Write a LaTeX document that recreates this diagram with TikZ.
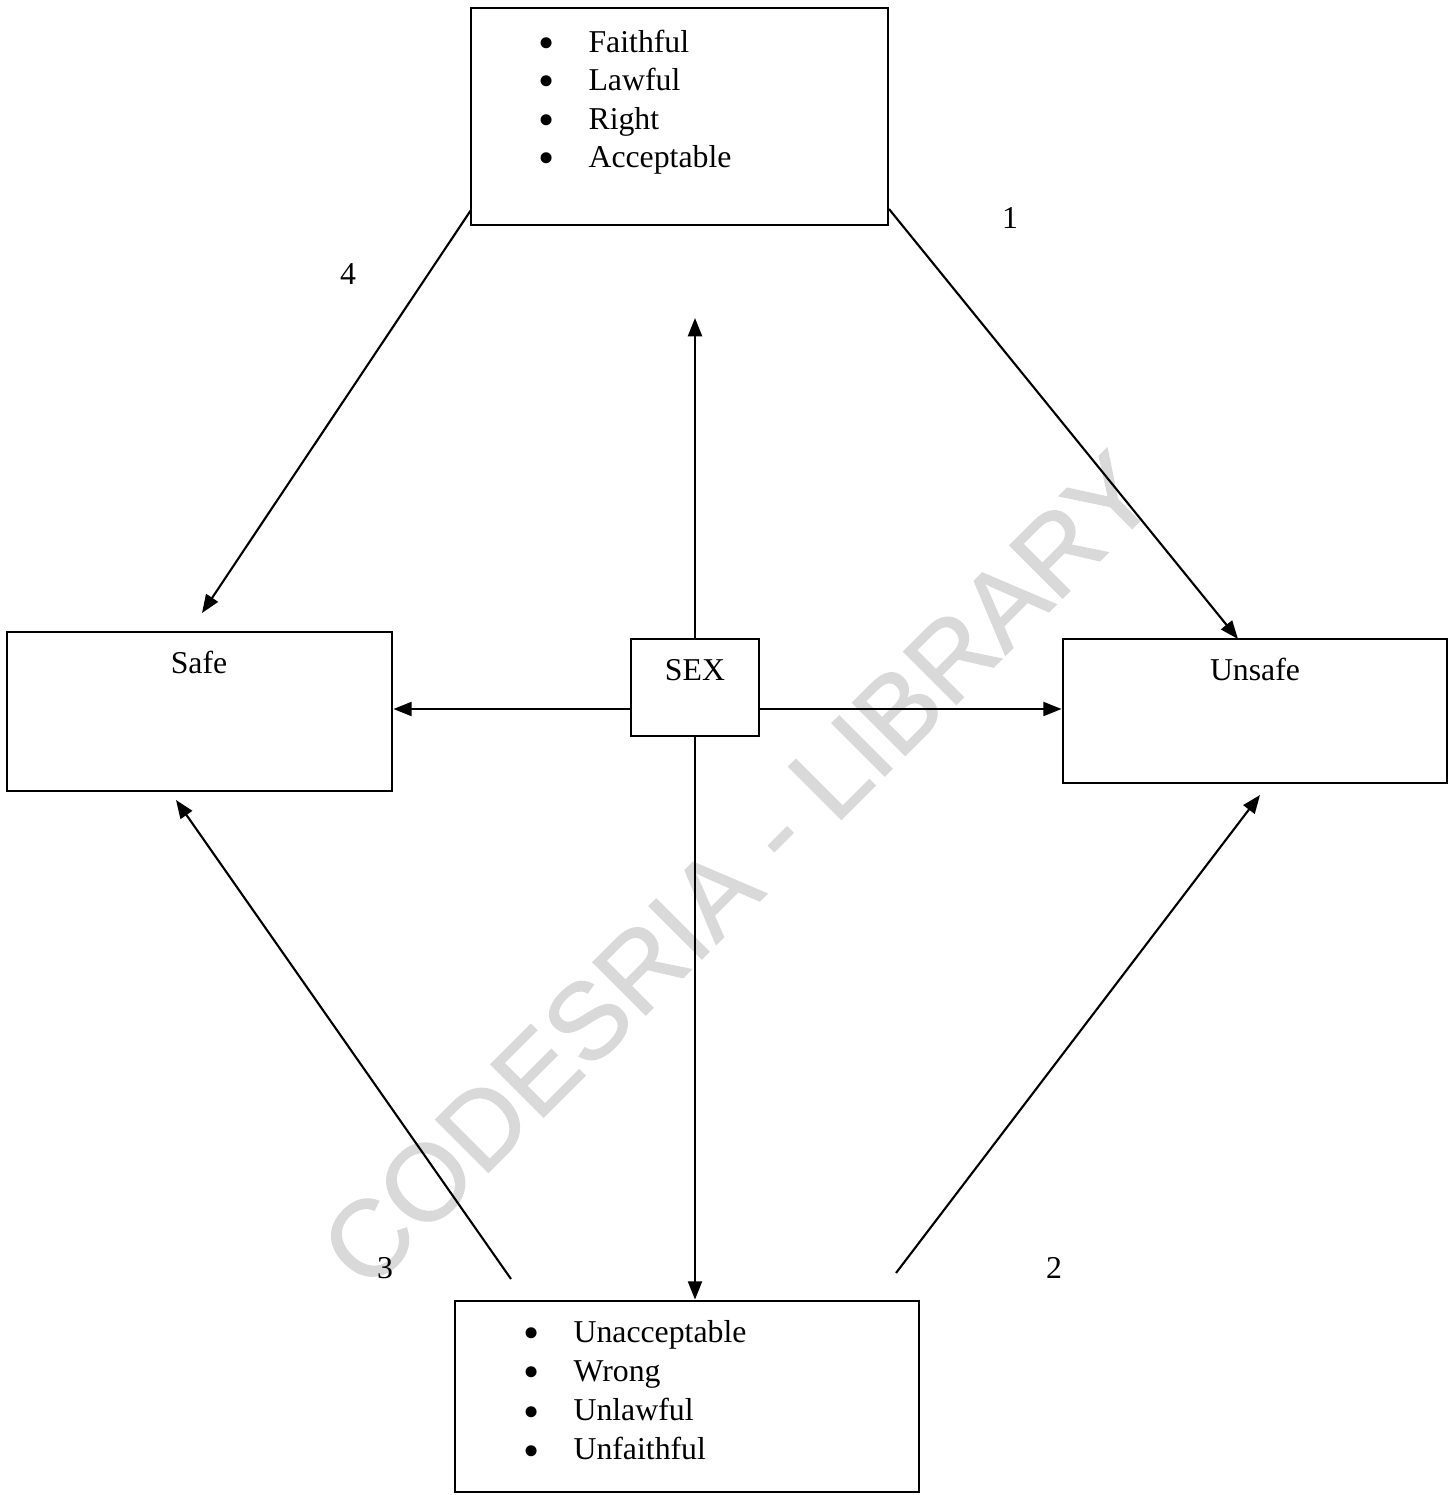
\documentclass[tikz,border=0pt]{standalone}
\usepackage{fontspec}
\usepackage{graphicx}
\setmainfont{Liberation Serif}
\newfontfamily\wmfont[FakeBold=1.2]{Liberation Sans}
\usetikzlibrary{arrows.meta}
\definecolor{wmgray}{HTML}{D9D9D9}
\tikzset{
	box/.style={draw, line width=1pt, inner sep=0pt},
	arr/.style={line width=0.75pt, -{Triangle[length=6.5pt,width=5pt]}},
	word/.style={inner sep=0pt, anchor=base, font=\fontsize{11.3}{13.7}\selectfont},
	itemtext/.style={inner sep=0pt, anchor=base west, font=\fontsize{11.3}{13.7}\selectfont},
	watermark/.style={inner sep=0pt, rotate=45, text=wmgray, font=\wmfont\fontsize{38.5}{40}\selectfont}
}
\newcommand{\bul}{\llap{\raisebox{-2.3pt}{\scalebox{1.45}{\textbullet}}\hspace{0.42cm}}}
\begin{document}
\begin{tikzpicture}[x=0.0125cm, y=-0.0125cm]
		\useasboundingbox (0,0) rectangle (1455,1495);

		%watermark
		\node[watermark] (wm) at (738,870) {CODESRIA - LIBRARY};

		%boxes
		\node[box, minimum width=5.2125cm, minimum height=2.7125cm] (top) at (679.5,116.5) {};
		\node[box, minimum width=4.8125cm, minimum height=1.9875cm] (safe) at (199.5,711.5) {};
		\node[box, minimum width=1.6cm, minimum height=1.2125cm] (sex) at (695,687.5) {};
		\node[box, minimum width=4.8cm, minimum height=1.8cm] (unsafe) at (1255,711) {};
		\node[box, minimum width=5.8cm, minimum height=2.3875cm] (bot) at (687,1396.5) {};

		%box texts
		\node[word] (safetxt) at (199,673) {Safe};
		\node[word] (sextxt) at (695,680) {SEX};
		\node[word] (unsafetxt) at (1255,680) {Unsafe};

		\foreach \t [count=\i] in {Faithful,Lawful,Right,Acceptable}
			\node[itemtext] (up\i) at (588,{52+38.5*(\i-1)}) {\bul\t};
		\foreach \t [count=\i] in {Unacceptable,Wrong,Unlawful,Unfaithful}
			\node[itemtext] (low\i) at (573,{1342+39.3*(\i-1)}) {\bul\t};

		%free ends
		\coordinate (mid) at (695,709);
		\coordinate (uptip) at (695,318);
		\coordinate (s1) at (889,209);
		\coordinate (e1) at (1238,639);
		\coordinate (s2) at (896,1273);
		\coordinate (e2) at (1260,795);
		\coordinate (s3) at (511,1279);
		\coordinate (e3) at (176,800);
		\coordinate (s4) at (471,210);
		\coordinate (e4) at (202,613);

		%arrows from sex
		\draw[arr] (sex.north) -- (uptip);
		\draw[arr] (mid -| sex.west) -- (mid -| safe.east);
		\draw[arr] (mid -| sex.east) -- (mid -| unsafe.west);
		\draw[arr] (sex.south) -- (sex.south |- bot.north);

		%diagonal arrows
		\draw[arr] (s1) -- (e1);
		\draw[arr] (s2) -- (e2);
		\draw[arr] (s3) -- (e3);
		\draw[arr] (s4) -- (e4);

		%numbers
		\node[word] (n1) at (1010,228) {1};
		\node[word] (n2) at (1054,1278) {2};
		\node[word] (n3) at (385,1278) {3};
		\node[word] (n4) at (348,284) {4};
	\end{tikzpicture}
\end{document}
